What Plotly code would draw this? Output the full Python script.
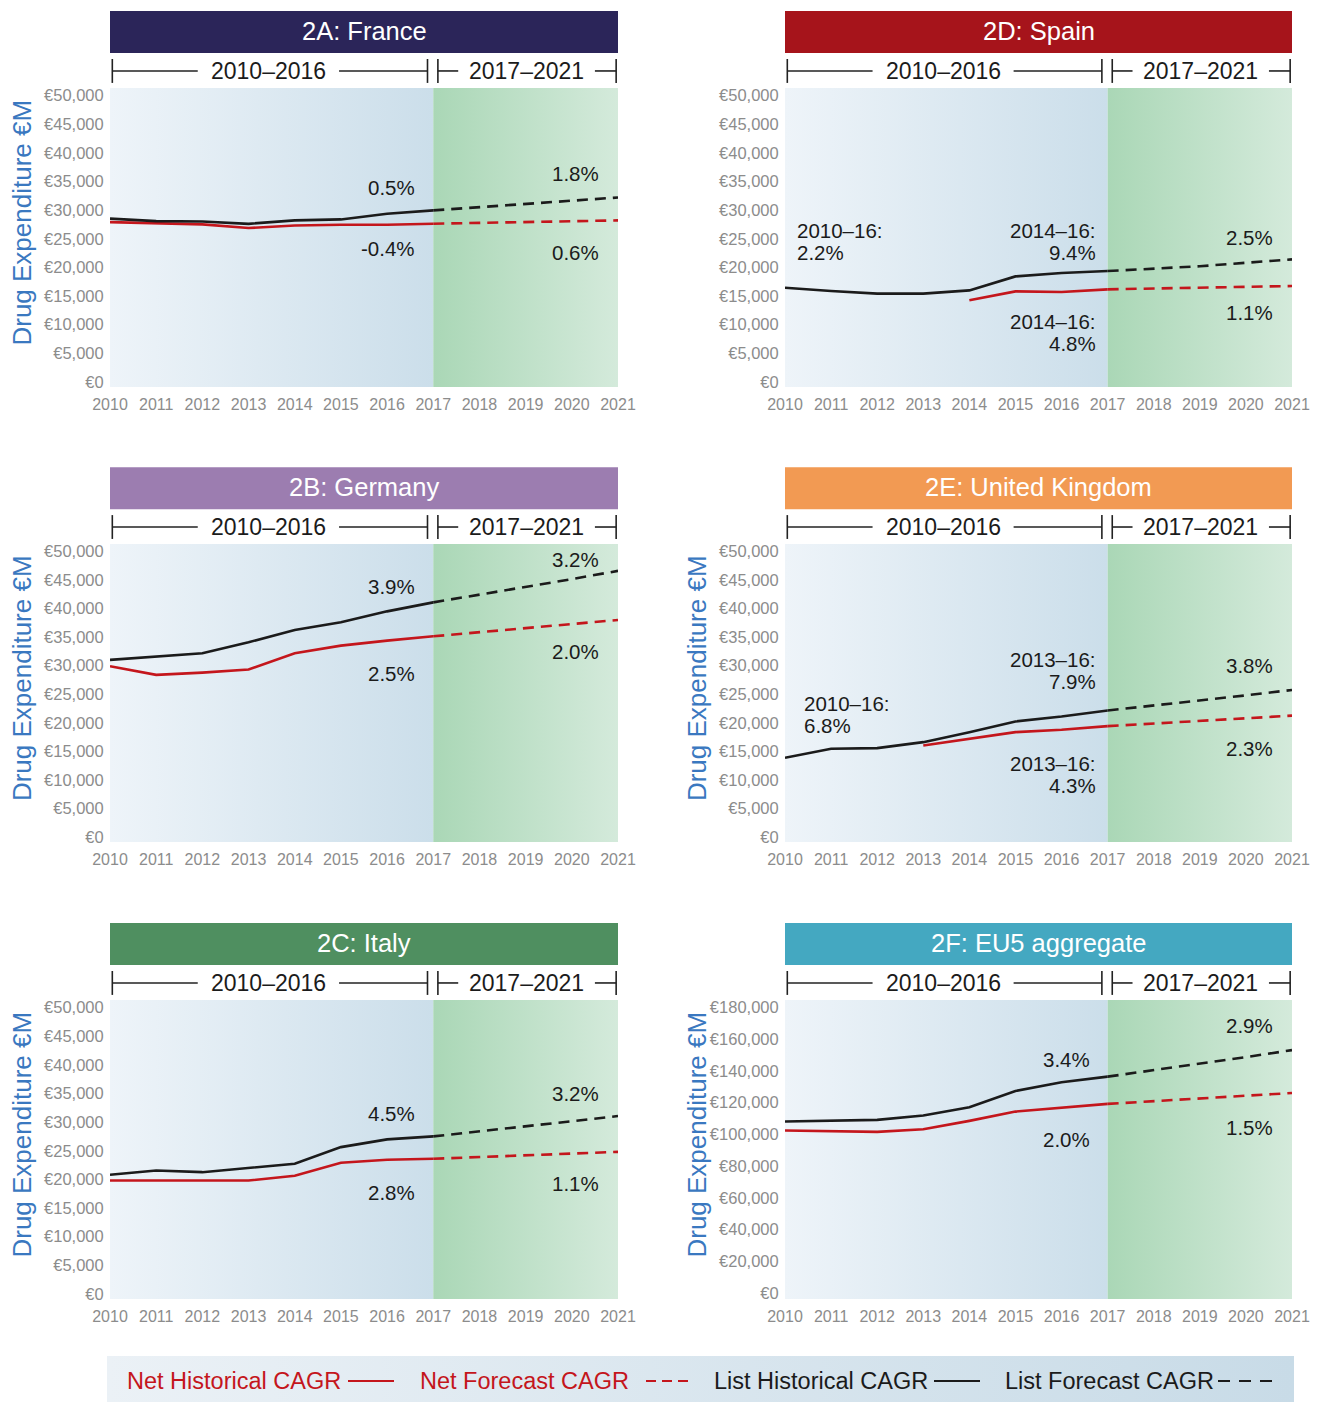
import plotly.graph_objects as go

# ---------------- DATA ----------------
YEARS_HIST = [2010, 2011, 2012, 2013, 2014, 2015, 2016, 2017]
YEARS_FC = [2017, 2018, 2019, 2020, 2021]
X_TICKS = list(range(2010, 2022))

france_list_hist = [28500, 28080, 28000, 27600, 28200, 28370, 29370, 29950]
france_net_hist = [27900, 27700, 27500, 26860, 27300, 27450, 27450, 27620]
france_list_fc = [29950, 30500, 31050, 31600, 32200]
france_net_fc = [27620, 27770, 27900, 28050, 28200]

spain_list_hist = [16460, 15870, 15420, 15420, 15990, 18430, 19010, 19360]
spain_net_hist = [None, None, None, None, 14250, 15820, 15700, 16170]
spain_list_fc = [19360, 19800, 20200, 20800, 21400]
spain_net_fc = [16170, 16300, 16450, 16600, 16750]

germany_list_hist = [31010, 31600, 32170, 34100, 36260, 37590, 39510, 41080]
germany_net_hist = [29900, 28390, 28790, 29320, 32170, 33510, 34390, 35140]
germany_list_fc = [41080, 42400, 43750, 45150, 46600]
germany_net_fc = [35140, 35850, 36550, 37300, 38000]

uk_list_hist = [13880, 15450, 15560, 16610, 18360, 20230, 21100, 22150]
uk_net_hist = [None, None, None, 16030, 17200, 18360, 18770, 19410]
uk_list_fc = [22150, 23000, 23850, 24800, 25750]
uk_net_fc = [19410, 19850, 20300, 20800, 21250]

italy_list_hist = [20800, 21550, 21260, 22030, 22730, 25630, 26980, 27500]
italy_net_hist = [19800, 19800, 19800, 19800, 20630, 22900, 23430, 23600]
italy_list_fc = [27500, 28350, 29250, 30150, 31050]
italy_net_fc = [23600, 23900, 24200, 24500, 24800]

eu5_list_hist = [108000, 108630, 109070, 111770, 117050, 127300, 132780, 136300]
eu5_net_hist = [102340, 102140, 101510, 103200, 108430, 114290, 116800, 119130]
eu5_list_fc = [136300, 140300, 144400, 148600, 153000]
eu5_net_fc = [119130, 120900, 122600, 124300, 126000]

# CAGR label texts
france_labels = ["0.5%", "-0.4%", "1.8%", "0.6%"]
spain_labels = ["2010–16:<br>2.2%", "2014–16:<br>9.4%", "2014–16:<br>4.8%", "2.5%", "1.1%"]
germany_labels = ["3.9%", "2.5%", "3.2%", "2.0%"]
uk_labels = ["2010–16:<br>6.8%", "2013–16:<br>7.9%", "2013–16:<br>4.3%", "3.8%", "2.3%"]
italy_labels = ["4.5%", "2.8%", "3.2%", "1.1%"]
eu5_labels = ["3.4%", "2.0%", "2.9%", "1.5%"]

PERIOD_LABELS = ["2010–2016", "2017–2021"]
Y_TITLE = "Drug Expenditure €M"
LEGEND_LABELS = ["Net Historical CAGR", "Net Forecast CAGR", "List Historical CAGR", "List Forecast CAGR"]

# ---------------- LAYOUT / STYLE ----------------
W, H = 1320, 1402
FONT = "Liberation Sans, Arial, Helvetica, sans-serif"
BLACK = "#1b1b1b"
RED = "#c4161c"
GREY = "#8c8c8c"
BLUE_T = "#3a78c0"

COL_X = [(110, 618), (785, 1292)]
ROW_Y = [(88, 387), (544, 842), (1000, 1299)]

# label positions (x in years, y in data units, anchor)
HR, FR = 2016.65, 2020.64
france_pos = [(HR, 33860, "right"), (HR, 23370, "right"), (FR, 36310, "right"), (FR, 22680, "right")]
spain_pos = [(2010.21, 24570, "left"), (2016.79, 24570, "right"), (2016.79, 8720, "right"),
             (FR, 25290, "right"), (FR, 12210, "right")]
germany_pos = [(HR, 43830, "right"), (HR, 28560, "right"), (FR, 48600, "right"), (FR, 32520, "right")]
uk_pos = [(2010.37, 21420, "left"), (2016.79, 29090, "right"), (2016.79, 10930, "right"),
          (FR, 30020, "right"), (FR, 15450, "right")]
italy_pos = [(HR, 31470, "right"), (HR, 17760, "right"), (FR, 34970, "right"), (FR, 19230, "right")]
eu5_pos = [(HR, 147270, "right"), (HR, 96480, "right"), (FR, 168670, "right"), (FR, 104470, "right")]

panels = [
    dict(title="2A: France", color="#2b2559", col=0, row=0, ytitle=True, yr=(-870, 51300), dtick=5000,
         lh=france_list_hist, nh=france_net_hist, lf=france_list_fc, nf=france_net_fc,
         labels=france_labels, pos=france_pos),
    dict(title="2D: Spain", color="#a6141b", col=1, row=0, ytitle=False, yr=(-870, 51300), dtick=5000,
         lh=spain_list_hist, nh=spain_net_hist, lf=spain_list_fc, nf=spain_net_fc,
         labels=spain_labels, pos=spain_pos),
    dict(title="2B: Germany", color="#9c7db0", col=0, row=1, ytitle=True, yr=(-870, 51300), dtick=5000,
         lh=germany_list_hist, nh=germany_net_hist, lf=germany_list_fc, nf=germany_net_fc,
         labels=germany_labels, pos=germany_pos),
    dict(title="2E: United Kingdom", color="#f29a53", col=1, row=1, ytitle=True, yr=(-870, 51300), dtick=5000,
         lh=uk_list_hist, nh=uk_net_hist, lf=uk_list_fc, nf=uk_net_fc,
         labels=uk_labels, pos=uk_pos),
    dict(title="2C: Italy", color="#4f8f60", col=0, row=2, ytitle=True, yr=(-870, 51300), dtick=5000,
         lh=italy_list_hist, nh=italy_net_hist, lf=italy_list_fc, nf=italy_net_fc,
         labels=italy_labels, pos=italy_pos),
    dict(title="2F: EU5 aggregate", color="#44a8c1", col=1, row=2, ytitle=True, yr=(-3780, 184580), dtick=20000,
         lh=eu5_list_hist, nh=eu5_net_hist, lf=eu5_list_fc, nf=eu5_net_fc,
         labels=eu5_labels, pos=eu5_pos),
]

fig = go.Figure()
shapes = []
annotations = []
layout_axes = {}

X0, XS, X1 = 2010, 2017, 2021

for i, p in enumerate(panels, start=1):
    xa = "x" if i == 1 else f"x{i}"
    ya = "y" if i == 1 else f"y{i}"
    xk = "xaxis" if i == 1 else f"xaxis{i}"
    yk = "yaxis" if i == 1 else f"yaxis{i}"
    cx0, cx1 = COL_X[p["col"]]
    ry0, ry1 = ROW_Y[p["row"]]
    layout_axes[xk] = dict(domain=[cx0 / W, cx1 / W], range=[X0, X1], anchor=ya, automargin=False,
                           tickmode="array", tickvals=X_TICKS, ticktext=[str(t) for t in X_TICKS],
                           showgrid=False, zeroline=False, showline=False,
                           ticks="outside", ticklen=3, tickcolor="rgba(0,0,0,0)",
                           tickfont=dict(family=FONT, size=16, color=GREY), fixedrange=True)
    ylo, yhi = p["yr"]
    layout_axes[yk] = dict(domain=[1 - ry1 / H, 1 - ry0 / H], range=[ylo, yhi], anchor=xa, automargin=False,
                           tick0=0, dtick=p["dtick"], tickprefix="€", tickformat=",d",
                           showgrid=False, zeroline=False, showline=False,
                           ticks="outside", ticklen=2, tickcolor="rgba(0,0,0,0)",
                           tickfont=dict(family=FONT, size=16.5, color=GREY), fixedrange=True)

    # background gradients
    fig.add_trace(go.Scatter(x=[X0, XS, XS, X0, X0], y=[ylo, ylo, yhi, yhi, ylo], xaxis=xa, yaxis=ya,
                             mode="lines", line=dict(width=0), fill="toself",
                             fillgradient=dict(type="horizontal",
                                               colorscale=[[0, "#eef4f9"], [1, "#cbdeea"]]),
                             hoverinfo="skip", showlegend=False))
    fig.add_trace(go.Scatter(x=[XS, X1, X1, XS, XS], y=[ylo, ylo, yhi, yhi, ylo], xaxis=xa, yaxis=ya,
                             mode="lines", line=dict(width=0), fill="toself",
                             fillgradient=dict(type="horizontal",
                                               colorscale=[[0, "#aad7b6"], [1, "#d4eadb"]]),
                             hoverinfo="skip", showlegend=False))

    # data lines
    fig.add_trace(go.Scatter(x=YEARS_HIST, y=p["nh"], xaxis=xa, yaxis=ya, mode="lines",
                             line=dict(color=RED, width=2.6), showlegend=False, hoverinfo="skip"))
    fig.add_trace(go.Scatter(x=YEARS_FC, y=p["nf"], xaxis=xa, yaxis=ya, mode="lines",
                             line=dict(color=RED, width=2.6, dash="11px,7px"), showlegend=False, hoverinfo="skip"))
    fig.add_trace(go.Scatter(x=YEARS_HIST, y=p["lh"], xaxis=xa, yaxis=ya, mode="lines",
                             line=dict(color=BLACK, width=2.6), showlegend=False, hoverinfo="skip"))
    fig.add_trace(go.Scatter(x=YEARS_FC, y=p["lf"], xaxis=xa, yaxis=ya, mode="lines",
                             line=dict(color=BLACK, width=2.6, dash="11px,7px"), showlegend=False, hoverinfo="skip"))

    # title bar
    shapes.append(dict(type="rect", xref=f"{xa} domain", yref=f"{ya} domain",
                       x0=0, x1=1, y0=1.117, y1=1.2575, fillcolor=p["color"], line=dict(width=0),
                       layer="above"))
    annotations.append(dict(text=p["title"], xref=f"{xa} domain", yref=f"{ya} domain",
                            x=0.5, y=1.192, showarrow=False, xanchor="center", yanchor="middle",
                            font=dict(family=FONT, size=25.5, color="white")))

    # period brackets
    yb, yt0, yt1 = 1.057, 1.017, 1.097
    lk = dict(color="#222222", width=1.6)
    for xv in [2010.05, 2016.875, 2017.10, 2020.96]:
        shapes.append(dict(type="line", xref=xa, yref=f"{ya} domain", x0=xv, x1=xv, y0=yt0, y1=yt1, line=lk))
    for (a, b) in [(2010.05, 2011.90), (2014.96, 2016.875), (2017.10, 2017.54), (2020.50, 2020.96)]:
        shapes.append(dict(type="line", xref=xa, yref=f"{ya} domain", x0=a, x1=b, y0=yb, y1=yb, line=lk))
    for txt, xc in zip(PERIOD_LABELS, [2013.43, 2019.02]):
        annotations.append(dict(text=txt, xref=xa, yref=f"{ya} domain", x=xc, y=yb, showarrow=False,
                                xanchor="center", yanchor="middle",
                                font=dict(family=FONT, size=23, color=BLACK)))

    # CAGR labels
    for txt, (lx, ly, anc) in zip(p["labels"], p["pos"]):
        parts = txt.split("<br>")
        n = len(parts)
        for k, part in enumerate(parts):
            annotations.append(dict(text=part, xref=xa, yref=ya, x=lx, y=ly, showarrow=False,
                                    xanchor=anc, yanchor="middle", yshift=(n - 1) / 2 * 22 - k * 22,
                                    font=dict(family=FONT, size=20.5, color=BLACK)))

    # y axis title
    if p["ytitle"]:
        tx = 22 if p["col"] == 0 else 697
        annotations.append(dict(text=Y_TITLE, xref="paper", yref=f"{ya} domain", x=tx / W, y=0.55,
                                showarrow=False, textangle=-90, xanchor="center", yanchor="middle",
                                font=dict(family=FONT, size=26, color=BLUE_T)))

# ---------------- LEGEND BAND ----------------
layout_axes["xaxis7"] = dict(domain=[107 / W, 1294 / W], range=[0, 1], visible=False, fixedrange=True,
                             anchor="y7", automargin=False)
layout_axes["yaxis7"] = dict(domain=[0, (H - 1356) / H], range=[0, 1], visible=False, fixedrange=True,
                             anchor="x7", automargin=False)
fig.add_trace(go.Scatter(x=[0, 1, 1, 0, 0], y=[0, 0, 1, 1, 0], xaxis="x7", yaxis="y7", mode="lines",
                         line=dict(width=0), fill="toself",
                         fillgradient=dict(type="horizontal", colorscale=[[0, "#ebf1f6"], [1, "#c8dbe7"]]),
                         hoverinfo="skip", showlegend=False))

ly = 1 - 1381 / H
legend_items = [
    (LEGEND_LABELS[0], RED, "solid", 125, (348, 394)),
    (LEGEND_LABELS[1], RED, "10px,6px", 418, (646, 688)),
    (LEGEND_LABELS[2], BLACK, "solid", 712, (934, 980)),
    (LEGEND_LABELS[3], BLACK, "12px,9px", 1003, (1218, 1272)),
]
for txt, col, dsh, tx, (lx0, lx1) in legend_items:
    annotations.append(dict(text=txt, xref="paper", yref="paper", x=tx / W, y=ly, showarrow=False,
                            xanchor="left", yanchor="middle", font=dict(family=FONT, size=23.5, color=col)))
    shapes.append(dict(type="line", xref="paper", yref="paper", x0=lx0 / W, x1=lx1 / W, y0=ly, y1=ly,
                       line=dict(color=col, width=2.2, dash=dsh)))

fig.update_layout(width=W, height=H, autosize=False, margin=dict(l=0, r=0, t=0, b=0, pad=0),
                  paper_bgcolor="white", plot_bgcolor="rgba(0,0,0,0)",
                  shapes=shapes, annotations=annotations, showlegend=False,
                  font=dict(family=FONT), **layout_axes)

fig.write_html("out.html", config=dict(displayModeBar=False, responsive=False),
               post_script="document.body.style.margin='0';document.body.style.overflow='hidden';")
